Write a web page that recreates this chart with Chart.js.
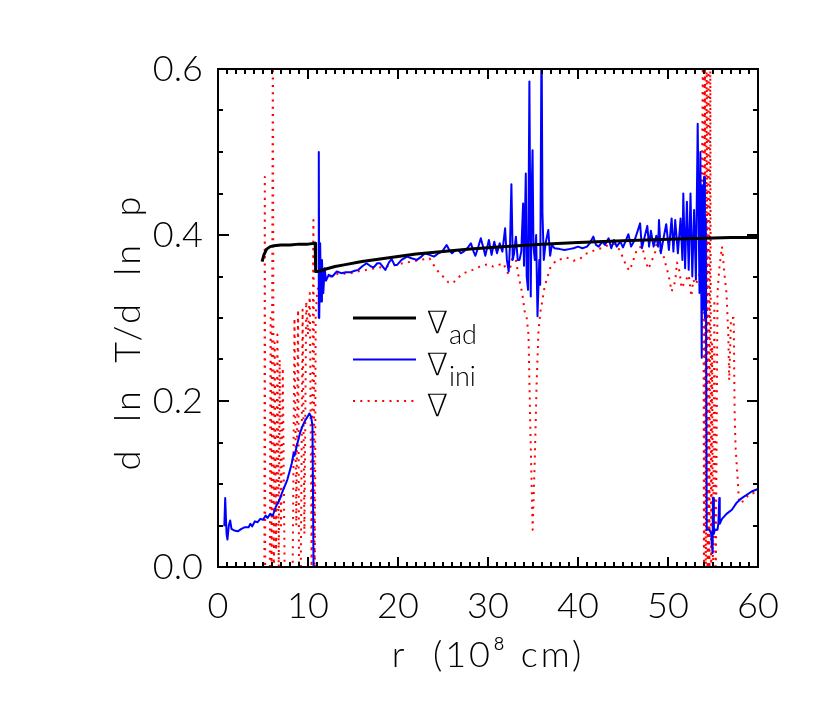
<!DOCTYPE html>
<html>
<head>
<meta charset="utf-8">
<script src="https://cdn.jsdelivr.net/npm/chart.js@4.4.1/dist/chart.umd.min.js"></script>
<style>
  html, body { margin: 0; padding: 0; background: #fff; }
  #wrap { width: 822px; height: 706px; }
</style>
</head>
<body>
<div id="wrap"><canvas id="grad"></canvas></div>
<script>
// r in 1e8 cm, gradients
const rAd = [4.9, 5.1, 5.4, 5.8, 6.2, 7, 8, 9, 10, 10.8, 10.85, 11.2, 12, 13, 14, 16, 18, 20, 22, 25, 28, 32, 36, 40, 45, 50, 54, 57, 60]
const gradAd = [0.368, 0.376, 0.383, 0.386, 0.387, 0.388, 0.388, 0.389, 0.389, 0.390, 0.356, 0.356, 0.359, 0.362, 0.364, 0.368, 0.371, 0.374, 0.377, 0.380, 0.383, 0.386, 0.389, 0.391, 0.393, 0.395, 0.396, 0.397, 0.397]

const rIni = [0.7, 0.8, 0.95, 1.05, 1.2, 1.35, 1.5, 1.8, 2.2, 2.6, 3.0, 3.4, 3.6, 3.8, 4.1, 4.4, 4.7, 5.0, 5.3, 5.5, 5.8, 6.1, 6.4, 6.8, 7.1, 7.4, 7.7, 8.0, 8.2, 8.4, 8.5, 8.8, 9.1, 9.4, 9.7, 10.0, 10.15, 10.35, 10.5, 10.65, 10.9,
  11.15, 11.2, 11.25, 11.35, 11.45, 11.55, 11.7, 11.85, 12.0, 12.3, 12.7, 13.2, 13.7, 14.2, 14.7, 15.2, 15.6, 16.0, 16.5, 17.0, 17.3, 17.7, 18.0, 18.3, 18.6, 19.0, 19.3, 19.6, 19.9, 20.4, 21.0, 21.5, 22.1, 22.6, 23.0, 23.5, 24.0, 24.5, 24.9, 25.4, 25.7, 26.0, 26.4, 26.7, 27.0, 27.3, 27.7, 28.1, 28.4, 28.6, 28.9, 29.2, 29.5, 29.7, 30.1, 30.4, 30.7, 31.0, 31.3, 31.6,
  31.9, 32.1, 32.3, 32.45, 32.6, 32.75, 32.9, 33.1, 33.3, 33.5, 33.7, 33.9, 34.0, 34.2, 34.3, 34.45, 34.6, 34.75, 34.85, 34.95, 35.05, 35.2, 35.35, 35.5, 35.7, 35.8, 35.95, 36.05, 36.2, 36.4, 36.7, 36.9, 37.1, 37.4,
  38.0, 38.5, 39.0, 39.5, 40.0, 40.5, 41.0, 41.3, 41.7, 42.0, 42.3, 42.7, 43.0, 43.4, 43.7, 44.0, 44.3, 44.7, 45.0, 45.6, 45.9, 46.3, 46.9, 47.1, 47.7, 47.9, 48.1, 48.4, 48.7, 48.9, 49.0, 49.2, 49.5, 49.8, 50.1, 50.4, 50.6, 50.8, 51.1, 51.4, 51.6, 51.7, 51.9, 52.1, 52.3, 52.5, 52.7, 52.9, 53.1, 53.3, 53.5, 53.6, 53.75, 53.8, 53.9, 54.0, 54.1, 54.2,
  54.3, 54.6, 54.8, 54.95, 55.0, 55.1, 55.2, 55.5, 55.6, 55.7, 55.75, 56.0, 56.5, 57.1, 57.6, 58.2, 59.3, 60.0]
const gradIni = [0.049, 0.083, 0.040, 0.033, 0.050, 0.056, 0.046, 0.044, 0.043, 0.046, 0.048, 0.048, 0.052, 0.049, 0.055, 0.054, 0.058, 0.057, 0.062, 0.059, 0.064, 0.062, 0.072, 0.080, 0.089, 0.097, 0.105, 0.117, 0.125, 0.137, 0.134, 0.148, 0.161, 0.170, 0.177, 0.182, 0.185, 0.181, 0.170, -0.05, null,
  0.30, 0.50, 0.30, 0.39, 0.32, 0.37, 0.33, 0.36, 0.345, 0.352, 0.350, 0.356, 0.354, 0.355, 0.355, 0.357, 0.358, 0.362, 0.366, 0.362, 0.361, 0.366, 0.366, 0.362, 0.358, 0.367, 0.371, 0.364, 0.364, 0.370, 0.374, 0.372, 0.370, 0.374, 0.378, 0.376, 0.374, 0.378, 0.380, 0.388, 0.382, 0.378, 0.382, 0.382, 0.378, 0.380, 0.384, 0.390, 0.380, 0.375, 0.385, 0.396, 0.384, 0.375, 0.394, 0.376, 0.392, 0.378, 0.390, 0.380,
  0.408, 0.370, 0.356, 0.390, 0.461, 0.370, 0.378, 0.398, 0.370, 0.370, 0.380, 0.438, 0.363, 0.474, 0.350, 0.334, 0.585, 0.326, 0.450, 0.502, 0.386, 0.370, 0.400, 0.302, 0.370, 0.340, 0.650, 0.427, 0.370, 0.390, 0.406, 0.375, 0.388, 0.384,
  0.383, 0.382, 0.383, 0.384, 0.386, 0.384, 0.386, 0.390, 0.398, 0.388, 0.386, 0.392, 0.388, 0.396, 0.384, 0.394, 0.386, 0.392, 0.385, 0.401, 0.386, 0.394, 0.414, 0.384, 0.411, 0.386, 0.405, 0.386, 0.399, 0.386, 0.418, 0.378, 0.396, 0.413, 0.382, 0.420, 0.380, 0.418, 0.378, 0.420, 0.370, 0.450, 0.360, 0.440, 0.358, 0.450, 0.350, 0.430, 0.346, 0.534, 0.330, 0.500, 0.252, 0.460, 0.310, 0.470, 0.300, 0.420,
  0.045, 0.045, 0.040, 0.017, 0.083, 0.040, 0.045, 0.045, 0.053, 0.083, 0.052, 0.058, 0.064, 0.069, 0.077, 0.083, 0.091, 0.094]

const rNab = [5.15, 5.2, 5.25, 5.75, 5.85, 5.95, 6.1, 6.2, 6.3, 6.45, 6.6, 6.75, 6.85, 7.0, 7.2, 7.4, 7.7, 8.3, 8.5, 8.7, 8.9, 9.0, 9.2, 9.4, 9.6, 9.8, 10.0, 10.2, 10.4, 10.6, 10.75, 10.85, 11.0, 11.3, 11.6, 12.0,
  12.5, 13.5, 14.5, 15.5, 16.5, 17.5, 18.5, 19.5, 20.5, 21.5, 22.5, 23.5, 24.3, 25.0, 25.6, 26.1, 26.6, 27.3, 28.3, 29.1, 30.0, 30.6, 31.2, 31.7, 32.2, 32.5, 32.8, 33.1, 33.4, 33.8, 34.1, 34.3, 34.5, 34.7, 34.96, 35.2, 35.4, 35.6, 35.8, 36.3, 36.9, 37.6, 38.2, 38.7, 39.5, 40.2,
  40.8, 41.5, 42.1, 42.6, 43.4, 44.1, 44.7, 45.0, 45.4, 45.7, 46.1, 46.3, 46.7, 47.2, 47.3, 47.6, 47.8, 48.1, 48.6, 48.7, 49.5, 49.8, 50.0, 50.2, 50.4, 50.8, 51.0, 51.3, 51.5, 51.9, 52.3, 52.6, 52.8, 53.1, 53.4, 53.7,
  53.9, 54.0, 54.1, 54.2, 54.3, 54.4, 54.5, 54.6, 54.7, 54.8, 54.9, 55.0, 55.15, 55.3, 55.5, 55.7, 56.0, 56.3, 56.5, 56.7, 56.8, 57.0, 57.3, 57.4, 57.5, 57.7, 57.9, 58.5, 59.0, 60.0]
const gradNab = [-0.05, 0.47, -0.05, -0.03, 0.30, 0.0, 0.65, -0.05, 0.27, 0.02, 0.28, 0.0, 0.25, 0.05, 0.24, 0.0, -0.05, 0.0, 0.30, 0.05, 0.31, 0.0, 0.0, 0.31, 0.04, 0.32, 0.28, 0.33, 0.0, 0.418, -0.05, 0.30, 0.33, 0.345, 0.350, 0.352,
  0.350, 0.354, 0.353, 0.356, 0.358, 0.360, 0.362, 0.363, 0.366, 0.368, 0.370, 0.372, 0.358, 0.350, 0.343, 0.342, 0.348, 0.354, 0.358, 0.362, 0.365, 0.362, 0.364, 0.366, 0.354, 0.362, 0.378, 0.370, 0.350, 0.330, 0.306, 0.300, 0.280, 0.170, 0.045, 0.130, 0.220, 0.282, 0.306, 0.338, 0.360, 0.370, 0.371, 0.373, 0.369, 0.371,
  0.377, 0.380, 0.383, 0.384, 0.388, 0.389, 0.381, 0.372, 0.362, 0.357, 0.367, 0.376, 0.385, 0.386, 0.376, 0.366, 0.359, 0.366, 0.380, 0.388, 0.375, 0.362, 0.354, 0.344, 0.332, 0.344, 0.367, 0.355, 0.336, 0.344, 0.352, 0.326, 0.346, 0.340, 0.350, 0.360,
  0.65, -0.05, 0.65, -0.05, 0.65, -0.05, 0.65, -0.05, 0.62, -0.05, 0.27, -0.05, 0.322, -0.03, 0.330, 0.360, 0.386, 0.350, 0.330, 0.280, 0.225, 0.300, 0.300, 0.190, 0.145, 0.113, 0.077, 0.080, 0.088, 0.090]

const xTicks = [0, 10, 20, 30, 40, 50, 60]
const yTicks = [0.0, 0.2, 0.4, 0.6]
const xTitle = 'r  (10⁸ cm)'
const yTitle = 'd  ln  T/d  ln  p'

const FONT = "Lato, 'DejaVu Sans', sans-serif"

function pts(xs, ys) {
  return xs.map((x, i) => ({ x: x, y: ys[i] }))
}

// frame + inward ticks on all four sides
const frameTicks = {
  id: 'frameTicks',
  afterDatasetsDraw(chart) {
    const { ctx, chartArea: a, scales: { x, y } } = chart
    ctx.save()
    ctx.strokeStyle = '#000'
    ctx.lineWidth = 2
    ctx.strokeRect(a.left, a.top, a.right - a.left, a.bottom - a.top)
    ctx.beginPath()
    for (let v = 0; v <= 60; v += 1) {
      const px = Math.round(x.getPixelForValue(v))
      const len = v % 10 === 0 ? 10 : 5
      ctx.moveTo(px, a.bottom); ctx.lineTo(px, a.bottom - len)
      ctx.moveTo(px, a.top); ctx.lineTo(px, a.top + len)
    }
    for (let k = 0; k <= 12; k++) {
      const py = Math.round(y.getPixelForValue(k * 0.05))
      const len = k % 4 === 0 ? 11 : 5
      ctx.moveTo(a.left, py); ctx.lineTo(a.left + len, py)
      ctx.moveTo(a.right, py); ctx.lineTo(a.right - len, py)
    }
    ctx.stroke()
    ctx.restore()
  }
}

// axis titles, drawn wide and thin like the IDL vector font
const axisTitles = {
  id: 'axisTitles',
  afterDraw(chart) {
    const { ctx, chartArea: a } = chart
    ctx.save()
    ctx.fillStyle = '#000'
    ctx.font = '300 36px ' + FONT
    ctx.letterSpacing = '3px'
    ctx.textAlign = 'center'
    ctx.textBaseline = 'middle'
    ctx.fillText(xTitle, (a.left + a.right) / 2, 655)
    ctx.translate(128, 332)
    ctx.rotate(-Math.PI / 2)
    ctx.fillText(yTitle, 0, 0)
    ctx.restore()
  }
}

// legend with nabla and subscripts, placed in data coordinates like IDL
const nablaLegend = {
  id: 'nablaLegend',
  afterDraw(chart) {
    const { ctx, scales: { x, y } } = chart
    const rows = [
      { y: 0.30, color: '#000', width: 3, dash: [], sub: 'ad' },
      { y: 0.25, color: '#0000ff', width: 2, dash: [], sub: 'ini' },
      { y: 0.20, color: '#ff0000', width: 2, dash: [2, 5.3], sub: '' }
    ]
    const x0 = x.getPixelForValue(15), x1 = x.getPixelForValue(22)
    const xt = x.getPixelForValue(23.2)
    ctx.save()
    rows.forEach(r => {
      const py = y.getPixelForValue(r.y)
      ctx.beginPath()
      ctx.strokeStyle = r.color
      ctx.lineWidth = r.width
      ctx.setLineDash(r.dash)
      ctx.moveTo(x0, py); ctx.lineTo(x1, py)
      ctx.stroke()
      ctx.setLineDash([])
      ctx.fillStyle = '#000'
      ctx.textBaseline = 'alphabetic'
      ctx.textAlign = 'left'
      ctx.font = "200 31px 'DejaVu Sans'"
      ctx.fillText('∇', xt, py + 15)
      const w = ctx.measureText('∇').width
      if (r.sub) {
        ctx.font = '300 27px ' + FONT
        ctx.fillText(r.sub, xt + w + 1, py + 26)
      }
    })
    ctx.restore()
  }
}

Chart.defaults.font.family = FONT
Chart.defaults.font.weight = '300'
Chart.defaults.color = '#000'

new Chart(document.getElementById('grad'), {
  type: 'line',
  data: {
    datasets: [
      { label: 'ad', data: pts(rAd, gradAd), borderColor: '#000', borderWidth: 3 },
      { label: 'ini', data: pts(rIni, gradIni), borderColor: '#0000ff', borderWidth: 2 },
      { label: 'nabla', data: pts(rNab, gradNab), borderColor: '#ff0000', borderWidth: 2, borderDash: [2, 5.3] }
    ]
  },
  options: {
    responsive: true,
    maintainAspectRatio: false,
    animation: false,
    layout: { padding: { left: 20, right: 64, top: 69, bottom: 20 } },
    elements: { point: { radius: 0 }, line: { tension: 0, borderJoinStyle: 'round' } },
    datasets: { line: { clip: 0, spanGaps: false } },
    plugins: { legend: { display: false }, tooltip: { enabled: false } },
    scales: {
      x: {
        type: 'linear', min: 0, max: 60,
        afterBuildTicks: s => { s.ticks = xTicks.map(v => ({ value: v })) },
        afterFit: s => { s.height = 119 },
        grid: { display: false, drawTicks: false },
        border: { display: false },
        ticks: { padding: 18, font: { size: 36, weight: '300' }, maxRotation: 0 }
      },
      y: {
        type: 'linear', min: 0, max: 0.6,
        afterBuildTicks: s => { s.ticks = yTicks.map(v => ({ value: v })) },
        afterFit: s => { s.width = 198 },
        grid: { display: false, drawTicks: false },
        border: { display: false },
        ticks: { padding: 15, font: { size: 36, weight: '300' }, callback: v => v.toFixed(1) }
      }
    }
  },
  plugins: [frameTicks, axisTitles, nablaLegend]
})
</script>
</body>
</html>
